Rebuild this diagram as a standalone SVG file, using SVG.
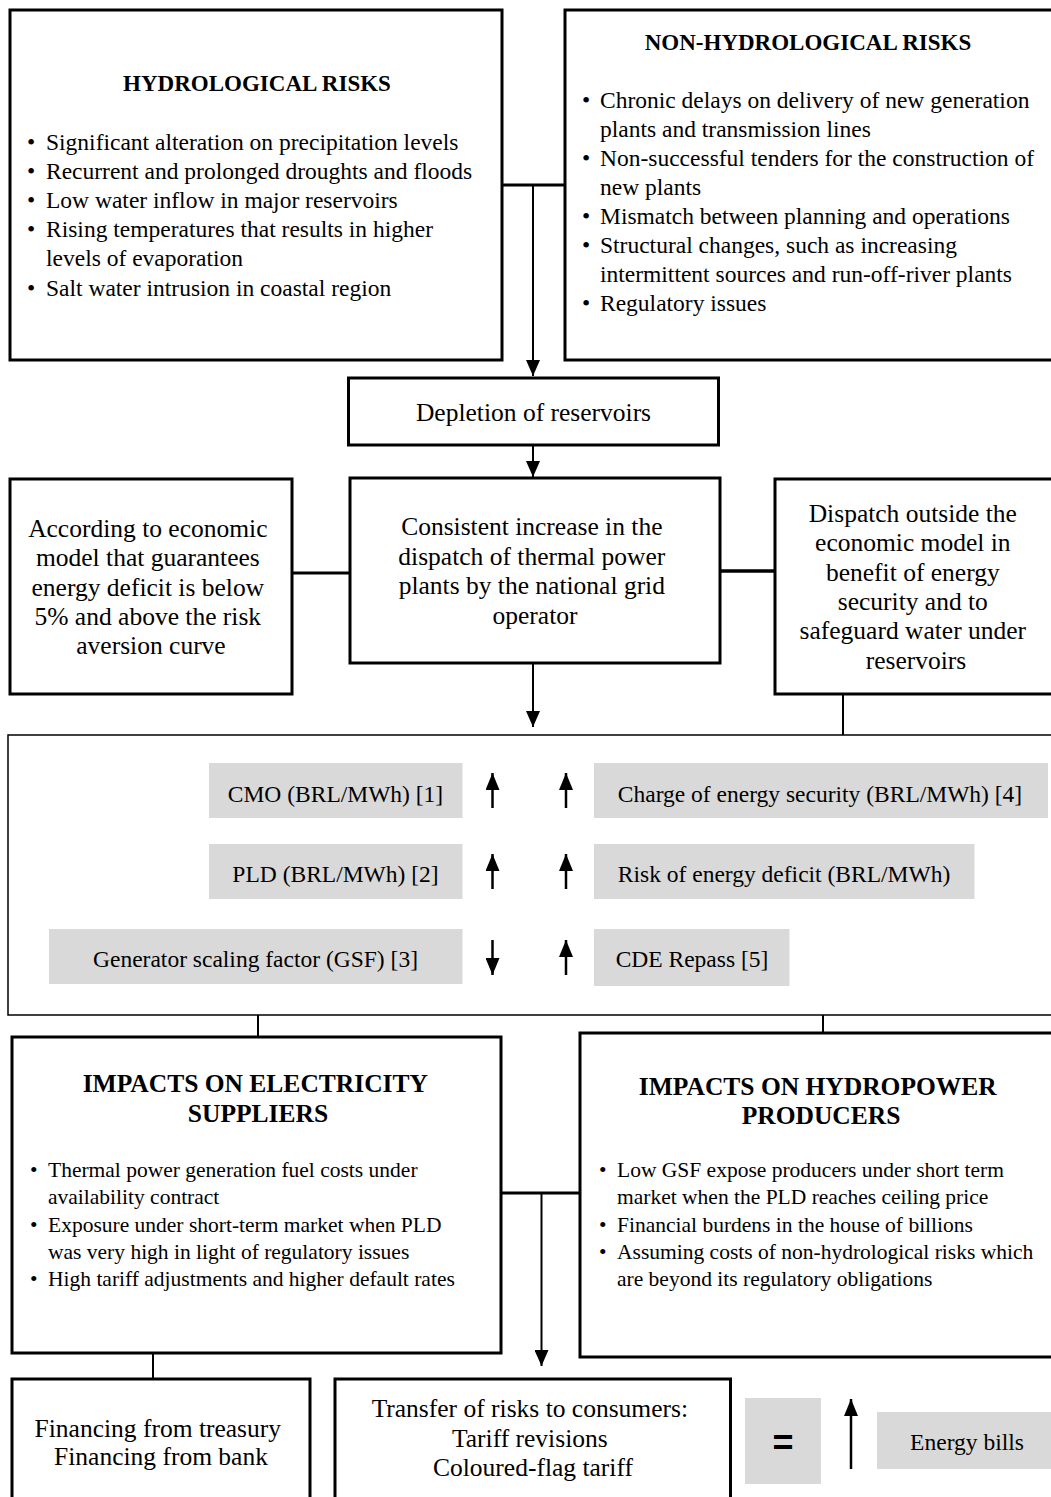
<svg xmlns="http://www.w3.org/2000/svg" width="1051" height="1497" viewBox="0 0 1051 1497">
<style>
.box{fill:#fff;stroke:#000;stroke-width:3}
.big{fill:#fff;stroke:#000;stroke-width:1.5}
.gray{fill:#d9d9d9;stroke:none}
.t{font-family:"Liberation Serif","Times New Roman",serif;fill:#000}
.c{text-anchor:middle}
.h{font-weight:bold}
.s25{font-size:25.5px}
.s23{font-size:23.5px}
.s21{font-size:21.5px}
.ln{stroke:#000;fill:none}
</style>
<defs>
<marker id="ah" viewBox="0 0 16 14" refX="16" refY="7" markerWidth="16" markerHeight="14" markerUnits="userSpaceOnUse" orient="auto">
<path d="M0,0 L16,7 L0,14 z" fill="#000"/>
</marker>
<marker id="ahs" viewBox="0 0 17 14" refX="17" refY="7" markerWidth="17" markerHeight="14" markerUnits="userSpaceOnUse" orient="auto">
<path d="M0,0 L17,7 L0,14 z" fill="#000"/>
</marker>
</defs>
<rect width="1051" height="1497" fill="#fff"/>

<g id="connectors">
<line class="ln" x1="502" y1="185" x2="565" y2="185" stroke-width="3"/>
<line class="ln" x1="533" y1="185" x2="533" y2="376" stroke-width="2" marker-end="url(#ah)"/>
<line class="ln" x1="533" y1="445" x2="533" y2="477" stroke-width="2" marker-end="url(#ah)"/>
<line class="ln" x1="292" y1="573" x2="350" y2="573" stroke-width="3"/>
<line class="ln" x1="720" y1="571" x2="775" y2="571" stroke-width="3.5"/>
<line class="ln" x1="533" y1="663" x2="533" y2="727" stroke-width="2" marker-end="url(#ah)"/>
<line class="ln" x1="843" y1="694" x2="843" y2="763" stroke-width="2"/>
<line class="ln" x1="258" y1="1015" x2="258" y2="1037" stroke-width="2"/>
<line class="ln" x1="823" y1="1015" x2="823" y2="1033" stroke-width="2"/>
<line class="ln" x1="501" y1="1193" x2="580" y2="1193" stroke-width="3"/>
<line class="ln" x1="541.5" y1="1193" x2="541.5" y2="1366" stroke-width="2" marker-end="url(#ah)"/>
<line class="ln" x1="153" y1="1353" x2="153" y2="1379" stroke-width="2"/>
</g>

<g id="hydrological-risks">
<rect class="box" x="10" y="10" width="492" height="350"/>
<text class="t h c" x="257" y="91" style="font-size:23px">HYDROLOGICAL RISKS</text>
<text class="t s23">
<tspan x="27" y="149.5">•</tspan><tspan x="46" y="149.5">Significant alteration on precipitation levels</tspan>
<tspan x="27" y="178.7">•</tspan><tspan x="46" y="178.7">Recurrent and prolonged droughts and floods</tspan>
<tspan x="27" y="207.9">•</tspan><tspan x="46" y="207.9">Low water inflow in major reservoirs</tspan>
<tspan x="27" y="237.1">•</tspan><tspan x="46" y="237.1">Rising temperatures that results in higher</tspan>
<tspan x="46" y="266.3">levels of evaporation</tspan>
<tspan x="27" y="295.5">•</tspan><tspan x="46" y="295.5">Salt water intrusion in coastal region</tspan>
</text>
</g>

<g id="non-hydrological-risks">
<rect class="box" x="565" y="10" width="500" height="350"/>
<text class="t h c" x="808" y="50" style="font-size:23px">NON-HYDROLOGICAL RISKS</text>
<text class="t s23">
<tspan x="582" y="107.5">•</tspan><tspan x="600" y="107.5">Chronic delays on delivery of new generation</tspan>
<tspan x="600" y="136.5">plants and transmission lines</tspan>
<tspan x="582" y="165.5">•</tspan><tspan x="600" y="165.5">Non-successful tenders for the construction of</tspan>
<tspan x="600" y="194.5">new plants</tspan>
<tspan x="582" y="224">•</tspan><tspan x="600" y="224">Mismatch between planning and operations</tspan>
<tspan x="582" y="253">•</tspan><tspan x="600" y="253">Structural changes, such as increasing</tspan>
<tspan x="600" y="282">intermittent sources and run-off-river plants</tspan>
<tspan x="582" y="311">•</tspan><tspan x="600" y="311">Regulatory issues</tspan>
</text>
</g>

<g id="depletion">
<rect class="box" x="348.5" y="378" width="370" height="67"/>
<text class="t c s25" x="533.5" y="420.5">Depletion of reservoirs</text>
</g>

<g id="economic-model">
<rect class="box" x="10" y="479" width="282" height="215"/>
<text class="t c s25">
<tspan x="151" y="537">According to economic</tspan>
<tspan x="151" y="566.3">model that guarantees</tspan>
<tspan x="151" y="595.6">energy deficit is below</tspan>
<tspan x="151" y="624.9">5% and above the risk</tspan>
<tspan x="151" y="654.2">aversion curve</tspan>
</text>
</g>

<g id="thermal-dispatch">
<rect class="box" x="350" y="478" width="370" height="185"/>
<text class="t c s25">
<tspan x="535" y="535">Consistent increase in the</tspan>
<tspan x="535" y="564.5">dispatch of thermal power</tspan>
<tspan x="535" y="594">plants by the national grid</tspan>
<tspan x="535" y="623.5">operator</tspan>
</text>
</g>

<g id="dispatch-outside">
<rect class="box" x="775" y="479" width="290" height="215"/>
<text class="t c s25">
<tspan x="916" y="522">Dispatch outside the</tspan>
<tspan x="916" y="551.3">economic model in</tspan>
<tspan x="916" y="580.6">benefit of energy</tspan>
<tspan x="916" y="609.9">security and to</tspan>
<tspan x="916" y="639.2">safeguard water under</tspan>
<tspan x="916" y="668.5">reservoirs</tspan>
</text>
</g>

<g id="indicators">
<rect class="big" x="8" y="735" width="1060" height="280"/>
<rect class="gray" x="209" y="763" width="253.5" height="55"/>
<text class="t c s23" x="335.5" y="802">CMO (BRL/MWh) [1]</text>
<rect class="gray" x="594" y="763" width="454" height="55"/>
<text class="t c s23" x="820" y="802">Charge of energy security (BRL/MWh) [4]</text>
<rect class="gray" x="209" y="844" width="253.5" height="55"/>
<text class="t c s23" x="335.5" y="882">PLD (BRL/MWh) [2]</text>
<rect class="gray" x="594" y="844" width="380.5" height="55"/>
<text class="t c s23" x="784" y="882">Risk of energy deficit (BRL/MWh)</text>
<rect class="gray" x="49" y="929" width="413.5" height="55"/>
<text class="t c s23" x="255.5" y="967">Generator scaling factor (GSF) [3]</text>
<rect class="gray" x="594" y="929" width="195.5" height="57"/>
<text class="t c s23" x="692" y="967">CDE Repass [5]</text>
<line class="ln" x1="492.5" y1="808" x2="492.5" y2="773" stroke-width="2.5" marker-end="url(#ahs)"/>
<line class="ln" x1="566" y1="808" x2="566" y2="773" stroke-width="2.5" marker-end="url(#ahs)"/>
<line class="ln" x1="492.5" y1="889" x2="492.5" y2="854" stroke-width="2.5" marker-end="url(#ahs)"/>
<line class="ln" x1="566" y1="889" x2="566" y2="854" stroke-width="2.5" marker-end="url(#ahs)"/>
<line class="ln" x1="492.5" y1="940" x2="492.5" y2="975" stroke-width="2.5" marker-end="url(#ahs)"/>
<line class="ln" x1="566" y1="975" x2="566" y2="940" stroke-width="2.5" marker-end="url(#ahs)"/>
</g>

<g id="impacts-suppliers">
<rect class="box" x="12" y="1037" width="489" height="316"/>
<text class="t h c s25">
<tspan x="258" y="1092">IMPACTS ON ELECTRICITY</tspan>
<tspan x="258" y="1121.5">SUPPLIERS</tspan>
</text>
<text class="t s21">
<tspan x="30" y="1177">•</tspan><tspan x="48" y="1177">Thermal power generation fuel costs under</tspan>
<tspan x="48" y="1204.3">availability contract</tspan>
<tspan x="30" y="1231.6">•</tspan><tspan x="48" y="1231.6">Exposure under short-term market when PLD</tspan>
<tspan x="48" y="1258.9">was very high in light of regulatory issues</tspan>
<tspan x="30" y="1286.2">•</tspan><tspan x="48" y="1286.2">High tariff adjustments and higher default rates</tspan>
</text>
</g>

<g id="impacts-producers">
<rect class="box" x="580" y="1033" width="490" height="324"/>
<text class="t h c s25">
<tspan x="821" y="1095">IMPACTS ON HYDROPOWER</tspan>
<tspan x="821" y="1124">PRODUCERS</tspan>
</text>
<text class="t s21">
<tspan x="599" y="1177">•</tspan><tspan x="617" y="1177">Low GSF expose producers under short term</tspan>
<tspan x="617" y="1204.3">market when the PLD reaches ceiling price</tspan>
<tspan x="599" y="1231.6">•</tspan><tspan x="617" y="1231.6">Financial burdens in the house of billions</tspan>
<tspan x="599" y="1258.9">•</tspan><tspan x="617" y="1258.9">Assuming costs of non-hydrological risks which</tspan>
<tspan x="617" y="1286.2">are beyond its regulatory obligations</tspan>
</text>
</g>

<g id="financing">
<rect class="box" x="12" y="1379" width="298" height="140"/>
<text class="t c s25">
<tspan x="161" y="1436.5">Financing from treasury</tspan>
<tspan x="161" y="1465">Financing from bank</tspan>
</text>
</g>

<g id="transfer">
<rect class="box" x="335" y="1379" width="395.5" height="140"/>
<text class="t c s25">
<tspan x="533" y="1417">Transfer of risks to consumers:</tspan>
<tspan x="533" y="1446.5">Tariff revisions</tspan>
<tspan x="533" y="1476">Coloured-flag tariff</tspan>
</text>
</g>

<g id="equals">
<rect class="gray" x="745" y="1398" width="76" height="86"/>
<text x="783" y="1455" text-anchor="middle" style="font-family:'Liberation Sans',Arial,sans-serif;font-weight:bold;font-size:36px">=</text>
</g>

<g id="bills-arrow">
<line class="ln" x1="851" y1="1469" x2="851" y2="1399" stroke-width="2.5" marker-end="url(#ahs)"/>
</g>

<g id="energy-bills">
<rect class="gray" x="877" y="1412" width="190" height="57"/>
<text class="t c s23" x="967" y="1450">Energy bills</text>
</g>
</svg>
